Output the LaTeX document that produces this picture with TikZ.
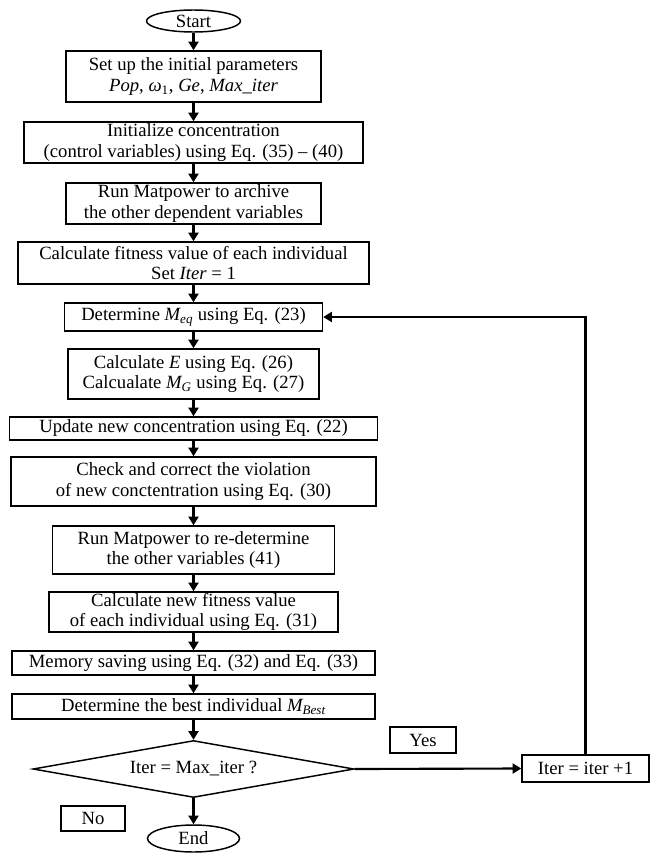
\documentclass[tikz,border=0pt]{standalone}
\usepackage{fontspec}
\setmainfont{Liberation Serif}
\usetikzlibrary{shapes.geometric,arrows.meta}
\tikzset{
  txt/.style={font=\fontsize{14pt}{15.5pt}\selectfont},
  box/.style 2 args={draw, line width=1.1pt, minimum width=#1*0.75pt, minimum height=#2*0.75pt, inner sep=0pt, align=center, txt},
  term/.style 2 args={draw, ellipse, line width=1.1pt, minimum width=#1*0.75pt, minimum height=#2*0.75pt, inner sep=0pt, txt},
  lbl/.style 2 args={draw, line width=1pt, minimum width=#1*0.75pt, minimum height=#2*0.75pt, inner sep=0pt, txt},
  arr/.style={line width=1.6pt, -{Triangle[length=6.5pt,width=7.5pt]}},
}
\begin{document}
\begin{tikzpicture}[x=0.75pt,y=-0.75pt]
\useasboundingbox (0,0) rectangle (654,853);
\node[term={94}{22}] (start) at (193.5,21) {Start};
\node[box={255}{51}] (b1) at (193.5,76.5) {Set up the initial parameters\\ \textit{Pop}, \textit{ω}\textsubscript{1}, \textit{Ge}, \textit{Max\_iter}};
\node[box={339}{41}] (b2) at (193.5,142.5) {Initialize concentration\\(control variables) using Eq. (35) – (40)};
\node[box={255}{41}] (b3) at (193.5,203.5) {Run Matpower to archive\\the other dependent variables};
\node[box={351}{42}] (b4) at (193.5,263) {Calculate fitness value of each individual\\Set \textit{Iter} = 1};
\node[box={258}{28}] (b5) at (193.5,317) {Determine \textit{M\textsubscript{eq}} using Eq. (23)};
\node[box={251}{50}] (b6) at (193.5,374) {Calculate \textit{E} using Eq. (26)\\Calcualate \textit{M\textsubscript{G}} using Eq. (27)};
\node[box={368}{23}] (b7) at (193.5,428.5) {Update new concentration using Eq. (22)};
\node[box={365}{49}] (b8) at (193.5,481.5) {Check and correct the violation\\of new conctentration using Eq. (30)};
\node[box={282}{48}] (b9) at (193.5,550) {Run Matpower to re-determine\\the other variables (41)};
\node[box={289}{40}] (b10) at (193.5,612) {Calculate new fitness value\\of each individual using Eq. (31)};
\node[box={363}{24}] (b11) at (193.5,663) {Memory saving using Eq. (32) and Eq. (33)};
\node[box={363}{25}] (b12) at (193.5,706.5) {Determine the best individual \textit{M\textsubscript{Best}}};
\node[draw, diamond, aspect=5.63, line width=1.1pt, minimum width=321*0.75pt, minimum height=57*0.75pt, inner sep=0pt, txt] (dia) at (193.5,769) {Iter = Max\_iter ?};
\node[lbl={66}{26}] (yes) at (423,740) {Yes};
\node[box={127}{27}] (iter) at (585.5,768.5) {Iter = iter +1};
\node[lbl={64}{25}] (no) at (93,818.5) {No};
\node[term={92}{27}] (end) at (193.5,838.5) {End};
\draw[arr] (start) -- (b1);
\draw[arr] (b1) -- (b2);
\draw[arr] (b2) -- (b3);
\draw[arr] (b3) -- (b4);
\draw[arr] (b4) -- (b5);
\draw[arr] (b5) -- (b6);
\draw[arr] (b6) -- (b7);
\draw[arr] (b7) -- (b8);
\draw[arr] (b8) -- (b9);
\draw[arr] (b9) -- (b10);
\draw[arr] (b10) -- (b11);
\draw[arr] (b11) -- (b12);
\draw[arr] (b12) -- (dia);
\draw[arr] (dia.east) -- (iter.west);
\draw[arr] (iter.north) |- (b5.east);
\draw[arr] (dia.south) -- (end.north);
\end{tikzpicture}
\end{document}
